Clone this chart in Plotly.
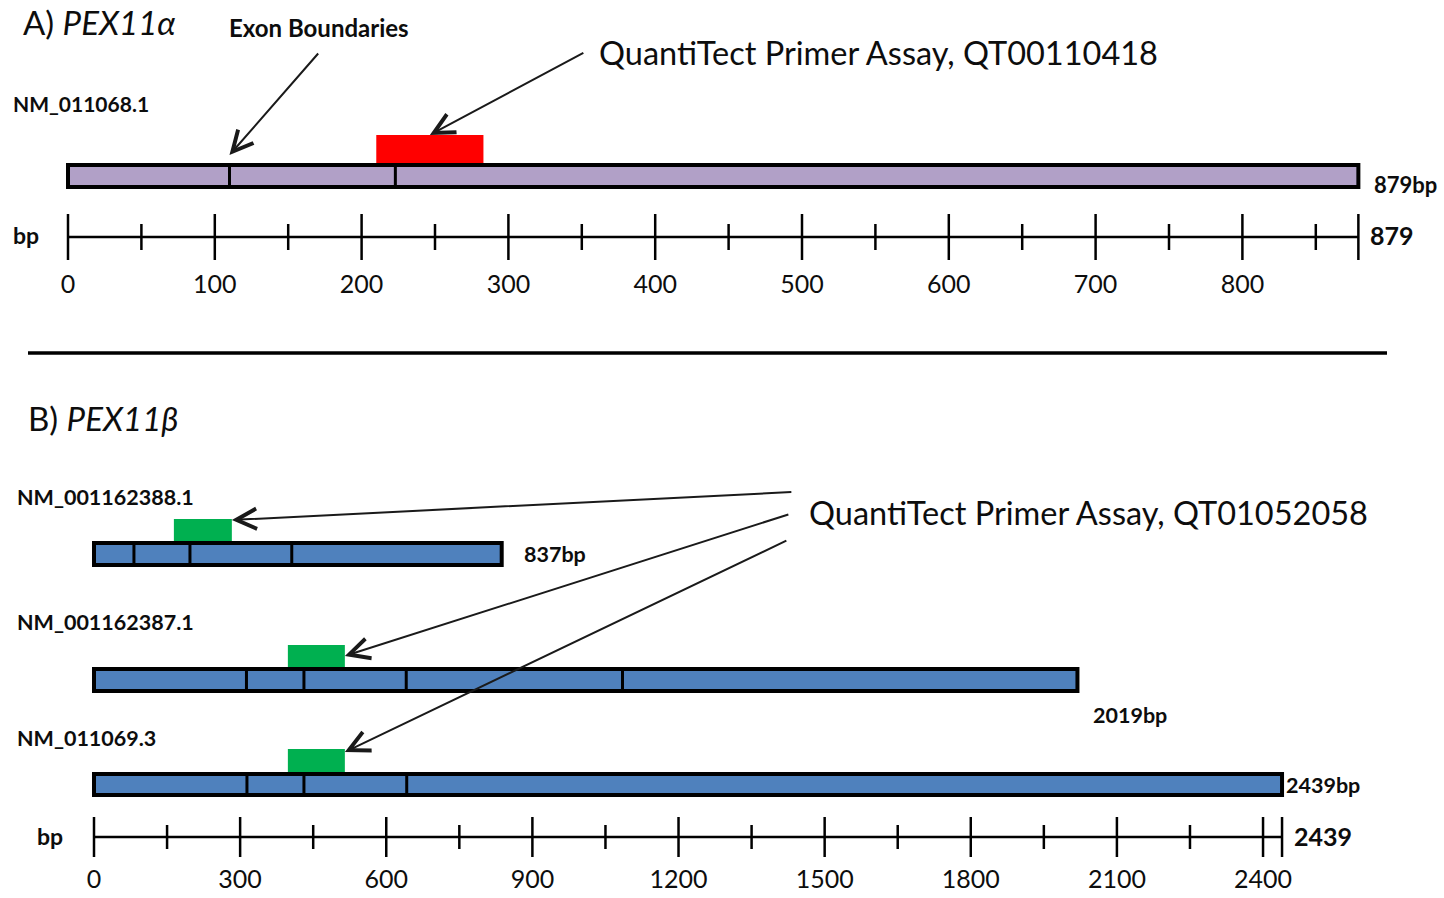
import plotly.graph_objects as go

# ---- PEX11alpha transcript (bp) ----
alpha_name = "NM_011068.1"
alpha_length = 879
alpha_exon_bounds = [110, 223]
alpha_primer = [210, 283]
alpha_major_ticks = [0, 100, 200, 300, 400, 500, 600, 700, 800]
alpha_minor_ticks = [50, 150, 250, 350, 450, 550, 650, 750, 850]
alpha_assay = "QuantiTect Primer Assay, QT00110418"

# ---- PEX11beta transcripts (bp) ----
beta_names = ["NM_001162388.1", "NM_001162387.1", "NM_011069.3"]
beta_lengths = [837, 2019, 2439]
beta_exon_bounds = [[82, 197, 406], [313, 431, 641, 1085], [314, 431, 642]]
beta_primers = [[164, 283], [398, 515], [398, 515]]
beta_major_ticks = [0, 300, 600, 900, 1200, 1500, 1800, 2100, 2400]
beta_minor_ticks = [150, 450, 750, 1050, 1350, 1650, 1950, 2250]
beta_assay = "QuantiTect Primer Assay, QT01052058"

W, H = 1444, 898
FONT = "Lato"
INK = "#0d0d0d"

# vertical layout (y axis runs top->down in page units)
alpha_row = (165, 187)
alpha_primer_top = 135
alpha_ruler_y = 237
beta_rows = [(543, 565), (669, 691), (774, 795)]
beta_primer_tops = [519, 645, 749]
beta_ruler_y = 837

fig = go.Figure()


def ruler(xref, yval, major, minor, end, major_half, minor_half):
    xs, ys = [0, end, None], [yval, yval, None]
    for t in major + [end]:
        xs += [t, t, None]
        ys += [yval - major_half, yval + major_half, None]
    for t in minor:
        xs += [t, t, None]
        ys += [yval - minor_half, yval + minor_half, None]
    fig.add_trace(go.Scatter(x=xs, y=ys, mode="lines", xaxis=xref, yaxis="y",
                             line=dict(color="black", width=2.5),
                             hoverinfo="skip", showlegend=False))


def tick_labels(xref, yval, ticks):
    fig.add_trace(go.Scatter(x=ticks, y=[yval] * len(ticks), mode="text",
                             text=[str(t) for t in ticks], xaxis=xref, yaxis="y",
                             textfont=dict(family=FONT, size=25, color=INK),
                             hoverinfo="skip", showlegend=False))


def transcript(xref, row, length, bounds, primer, primer_top, fill, primer_fill):
    y0, y1 = row
    fig.add_shape(type="rect", xref=xref, yref="y", x0=primer[0], x1=primer[1],
                  y0=primer_top, y1=y0, fillcolor=primer_fill, line=dict(width=0),
                  layer="above")
    fig.add_shape(type="rect", xref=xref, yref="y", x0=0, x1=length, y0=y0, y1=y1,
                  fillcolor=fill, line=dict(color="black", width=4), layer="above")
    for b in bounds:
        fig.add_shape(type="line", xref=xref, yref="y", x0=b, x1=b, y0=y0, y1=y1,
                      line=dict(color="black", width=3), layer="above")


def label(text, px, py, size, bold=False, xanchor="left"):
    fig.add_annotation(x=px / W, y=1 - py / H, xref="paper", yref="paper",
                       text=f"<b>{text}</b>" if bold else text, showarrow=False,
                       xanchor=xanchor, yanchor="middle",
                       font=dict(family=FONT, size=size, color=INK))


def arrow(xref, x, y, ax, ay):
    fig.add_annotation(x=x, y=y, xref=xref, yref="y", ax=ax, ay=ay,
                       axref="pixel", ayref="pixel", text="", showarrow=True,
                       arrowhead=5, arrowsize=2, arrowwidth=2, arrowcolor="#1a1a1a")


# ---- panel A ----
transcript("x", alpha_row, alpha_length, alpha_exon_bounds, alpha_primer,
           alpha_primer_top, "#B1A0C7", "#FF0000")
ruler("x", alpha_ruler_y, alpha_major_ticks, alpha_minor_ticks, alpha_length, 23, 13)
tick_labels("x", 287, alpha_major_ticks)

label("A) <i>PEX11α</i>", 21, 22, 33)
label("Exon Boundaries", 227, 27, 24, bold=True)
label(alpha_name, 11, 104, 21, bold=True)
label(alpha_assay, 597, 53, 32.5)
label("bp", 11, 235, 23, bold=True)
fig.add_annotation(x=alpha_length, y=184, xref="x", yref="y", text=f"<b>{alpha_length}bp</b>",
                   showarrow=False, xanchor="left", xshift=14,
                   font=dict(family=FONT, size=22, color=INK))
fig.add_annotation(x=alpha_length, y=235, xref="x", yref="y", text=f"<b>{alpha_length}</b>",
                   showarrow=False, xanchor="left", xshift=10,
                   font=dict(family=FONT, size=25, color=INK))

arrow("x", alpha_exon_bounds[0], 155, 90, -103)
arrow("x", (alpha_primer[0] + alpha_primer[1]) / 2, alpha_primer_top, 155, -83)

# divider between panels
fig.add_shape(type="line", xref="paper", yref="y", x0=28 / W, x1=1387 / W, y0=353, y1=353,
              line=dict(color="black", width=3.5))

# ---- panel B ----
label("B) <i>PEX11β</i>", 26, 418, 33)
label(beta_assay, 807, 512, 32.5)
name_ys = [497, 622, 738]
for i in range(3):
    transcript("x2", beta_rows[i], beta_lengths[i], beta_exon_bounds[i], beta_primers[i],
               beta_primer_tops[i], "#4F81BD", "#00B050")
    label(beta_names[i], 15, name_ys[i], 21.5, bold=True)

len_label_pos = [(554, 20), (715, 14), (785, 2)]
for i, (ly, shift) in enumerate(len_label_pos):
    fig.add_annotation(x=beta_lengths[i], y=ly, xref="x2", yref="y",
                       text=f"<b>{beta_lengths[i]}bp</b>", showarrow=False,
                       xanchor="left", xshift=shift,
                       font=dict(family=FONT, size=21.5, color=INK))

arrow("x2", beta_primers[0][1], 520, 561, -28)
arrow("x2", beta_primers[1][1], 656, 445, -142)
arrow("x2", beta_primers[2][1], 752, 443, -212)

ruler("x2", beta_ruler_y, beta_major_ticks, beta_minor_ticks, beta_lengths[2], 20, 12)
tick_labels("x2", 882, beta_major_ticks)
label("bp", 35, 836, 23, bold=True)
fig.add_annotation(x=beta_lengths[2], y=836, xref="x2", yref="y",
                   text=f"<b>{beta_lengths[2]}</b>", showarrow=False,
                   xanchor="left", xshift=10,
                   font=dict(family=FONT, size=25, color=INK))

fig.update_layout(
    width=W, height=H, margin=dict(l=0, r=0, t=0, b=0),
    paper_bgcolor="white", plot_bgcolor="white", showlegend=False,
    xaxis=dict(domain=[0, 1], range=[-68 / 1.468, (W - 68) / 1.468], visible=False,
               fixedrange=True),
    xaxis2=dict(domain=[0, 1], range=[-94 / 0.4871, (W - 94) / 0.4871], visible=False,
                overlaying="x", anchor="y", fixedrange=True),
    yaxis=dict(domain=[0, 1], range=[H, 0], visible=False, fixedrange=True),
)

fig.write_html("out.html")
